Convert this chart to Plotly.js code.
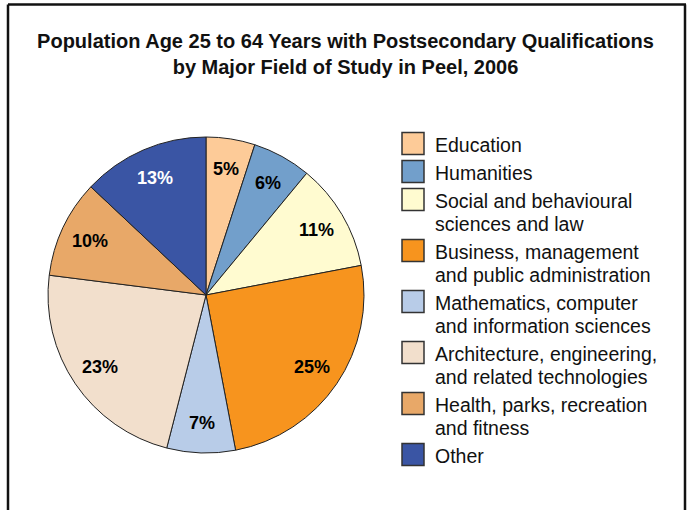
<!DOCTYPE html>
<html>
<head>
<meta charset="utf-8">
<script src="https://cdn.plot.ly/plotly-3.0.1.min.js"></script>
<style>
html,body{margin:0;padding:0;background:#fff;}
#chart{width:691px;height:510px;}
</style>
</head>
<body>
<div id="chart"></div>
<script>
var categories = [
  "Education",
  "Humanities",
  "Social and behavioural sciences and law",
  "Business, management and public administration",
  "Mathematics, computer and information sciences",
  "Architecture, engineering, and related technologies",
  "Health, parks, recreation and fitness",
  "Other"
];
var legendLines = [
  ["Education"],
  ["Humanities"],
  ["Social and behavioural", "sciences and law"],
  ["Business, management", "and public administration"],
  ["Mathematics, computer", "and information sciences"],
  ["Architecture, engineering,", "and related technologies"],
  ["Health, parks, recreation", "and fitness"],
  ["Other"]
];
var shares = [5, 6, 11, 25, 7, 23, 10, 13];
var colors = ["#FDCB98", "#729FCB", "#FFFBD0", "#F7941E", "#B8CCE8", "#F2DFCC", "#E8A868", "#3A55A4"];
var labelColors = ["#000", "#000", "#000", "#000", "#000", "#000", "#000", "#fff"];

var W = 691, H = 510;
function px(x){ return x / W; }
function py(y){ return 1 - y / H; }

var FONT = "Arial, 'Liberation Sans', Helvetica, sans-serif";

// pie geometry (pixels)
var PIE_L = 48, PIE_R = 364, PIE_T = 137, PIE_B = 453;
var cx = (PIE_L + PIE_R) / 2, cy = (PIE_T + PIE_B) / 2, rad = (PIE_R - PIE_L) / 2;

var trace = {
  type: "pie",
  labels: categories,
  values: shares,
  sort: false,
  direction: "clockwise",
  rotation: 0,
  marker: { colors: colors, line: { color: "#222", width: 1 } },
  textinfo: "none",
  hoverinfo: "label+percent",
  domain: { x: [px(PIE_L), px(PIE_R)], y: [py(PIE_B), py(PIE_T)] },
  showlegend: false
};

var frameStyle = { color: "#111", width: 2.5 };
var shapes = [
  { type: "line", xref: "paper", yref: "paper", x0: px(8), x1: px(686), y0: py(4.5), y1: py(4.5), line: frameStyle },
  { type: "line", xref: "paper", yref: "paper", x0: px(8), x1: px(8), y0: py(4.5), y1: py(520), line: frameStyle },
  { type: "line", xref: "paper", yref: "paper", x0: px(685), x1: px(685), y0: py(4.5), y1: py(520), line: frameStyle }
];
var annotations = [];

// percentage labels at the slice mid-angles
var total = shares.reduce(function(a, b){ return a + b; }, 0);
var cum = 0;
for (var k = 0; k < shares.length; k++) {
  var th = (cum + shares[k] / 2) / total * 2 * Math.PI;
  cum += shares[k];
  var lx = cx + 0.81 * rad * Math.sin(th), ly = cy - 0.81 * rad * Math.cos(th);
  annotations.push({
    xref: "paper", yref: "paper", x: px(lx), y: py(ly),
    xanchor: "center", yanchor: "middle", showarrow: false,
    text: "<b>" + Math.round(shares[k] / total * 100) + "%</b>",
    font: { family: FONT, size: 18, color: labelColors[k] }
  });
}

var y = 145;
for (var i = 0; i < legendLines.length; i++) {
  var sq = 22, sy = y - 1.5;
  shapes.push({
    type: "rect", xref: "paper", yref: "paper",
    x0: px(402), x1: px(402 + sq), y0: py(sy + sq / 2), y1: py(sy - sq / 2),
    line: { color: "#333", width: 1.5 }, fillcolor: colors[i]
  });
  for (var j = 0; j < legendLines[i].length; j++) {
    annotations.push({
      xref: "paper", yref: "paper", x: px(433), y: py(y + 23 * j),
      xanchor: "left", yanchor: "middle", showarrow: false,
      text: legendLines[i][j],
      font: { family: FONT, size: 19.5, color: "#111" }
    });
  }
  y += 28 + 23 * (legendLines[i].length - 1);
}

var layout = {
  width: W, height: H,
  margin: { l: 0, r: 0, t: 0, b: 0 },
  paper_bgcolor: "#fff",
  title: {
    text: "<b>Population Age 25 to 64 Years with Postsecondary Qualifications<br>by Major Field of Study in Peel, 2006</b>",
    font: { family: FONT, size: 20, color: "#111" },
    x: 0.5, xanchor: "center", y: 1 - 48 / H, yanchor: "top"
  },
  showlegend: false,
  shapes: shapes,
  annotations: annotations
};

Plotly.newPlot("chart", [trace], layout, { displayModeBar: false, staticPlot: true });
</script>
</body>
</html>
